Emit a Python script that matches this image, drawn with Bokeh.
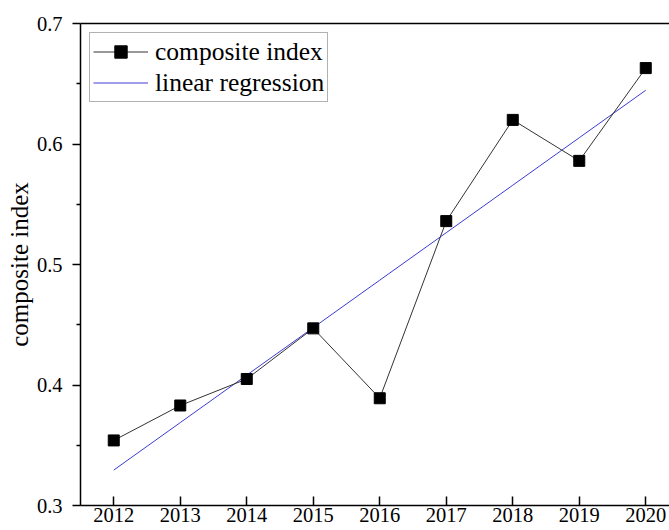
import numpy as np
from bokeh.plotting import figure
from bokeh.models import LinearAxis, FixedTicker, Legend, LegendItem, PrintfTickFormatter
from bokeh.embed import file_html
from bokeh.resources import INLINE

years = [2012, 2013, 2014, 2015, 2016, 2017, 2018, 2019, 2020]
composite = [0.354, 0.383, 0.405, 0.447, 0.389, 0.536, 0.620, 0.586, 0.663]
y_ticks = [0.3, 0.4, 0.5, 0.6, 0.7]
y_minor = [0.35, 0.45, 0.55, 0.65]

slope, intercept = np.polyfit(years, composite, 1)
regression = [slope * yr + intercept for yr in years]

FONT = "Liberation Serif"

p = figure(width=669, height=530, x_range=(2011.5, 2020.357), y_range=(0.3, 0.7),
           output_backend="svg", toolbar_location=None,
           min_border_left=80, min_border_right=0, min_border_top=23, min_border_bottom=25)
p.grid.visible = False
p.outline_line_color = None
p.background_fill_color = "white"
p.border_fill_color = "white"

xa = p.xaxis[0]
xa.ticker = FixedTicker(ticks=years)
xa.major_tick_in = 9
xa.major_tick_out = 0
xa.minor_tick_in = 0
xa.minor_tick_out = 0
xa.axis_line_width = 1.5
xa.major_tick_line_width = 1.5
xa.axis_line_color = "black"
xa.major_tick_line_color = "black"
xa.major_label_text_font = FONT
xa.major_label_text_font_size = "20.5px"
xa.major_label_text_color = "black"
xa.major_label_standoff = 2

ya = p.yaxis[0]
ya.ticker = FixedTicker(ticks=y_ticks, minor_ticks=y_minor)
ya.formatter = PrintfTickFormatter(format="%.1f")
ya.major_tick_in = 0
ya.major_tick_out = 8
ya.minor_tick_in = 0
ya.minor_tick_out = 4
ya.axis_line_width = 1.5
ya.major_tick_line_width = 1.5
ya.minor_tick_line_width = 1.5
ya.axis_line_color = "black"
ya.major_tick_line_color = "black"
ya.minor_tick_line_color = "black"
ya.major_label_text_font = FONT
ya.major_label_text_font_size = "20.5px"
ya.major_label_text_color = "black"
ya.major_label_standoff = 10
ya.axis_label = "composite index"
ya.axis_label_text_font = FONT
ya.axis_label_text_font_size = "25px"
ya.axis_label_text_font_style = "normal"
ya.axis_label_text_color = "black"
ya.axis_label_standoff = 1

top = LinearAxis(ticker=FixedTicker(ticks=[]), major_label_text_font_size="0px",
                 major_tick_in=0, major_tick_out=0, minor_tick_in=0, minor_tick_out=0,
                 axis_line_width=1.5, axis_line_color="black")
p.add_layout(top, "above")

reg_r = p.line(years, regression, line_color="#3c3cd2", line_width=1)
comp_line = p.line(years, composite, line_color="#333333", line_width=1)
comp_pts = p.scatter(years, composite, marker="square", size=11,
                     fill_color="black", line_color="black")

legend = Legend(items=[
    LegendItem(label="composite index", renderers=[comp_line, comp_pts]),
    LegendItem(label="linear regression", renderers=[reg_r]),
], location="top_left")
legend.margin = 9
legend.padding = 3
legend.spacing = 0
legend.label_height = 31
legend.glyph_height = 31
legend.glyph_width = 55
legend.label_standoff = 7
legend.label_text_font = FONT
legend.label_text_font_size = "25.5px"
legend.label_text_color = "black"
legend.border_line_color = "#666666"
legend.border_line_width = 1
legend.background_fill_alpha = 1
p.add_layout(legend, "center")

open("out.html", "w").write(file_html(p, INLINE))
